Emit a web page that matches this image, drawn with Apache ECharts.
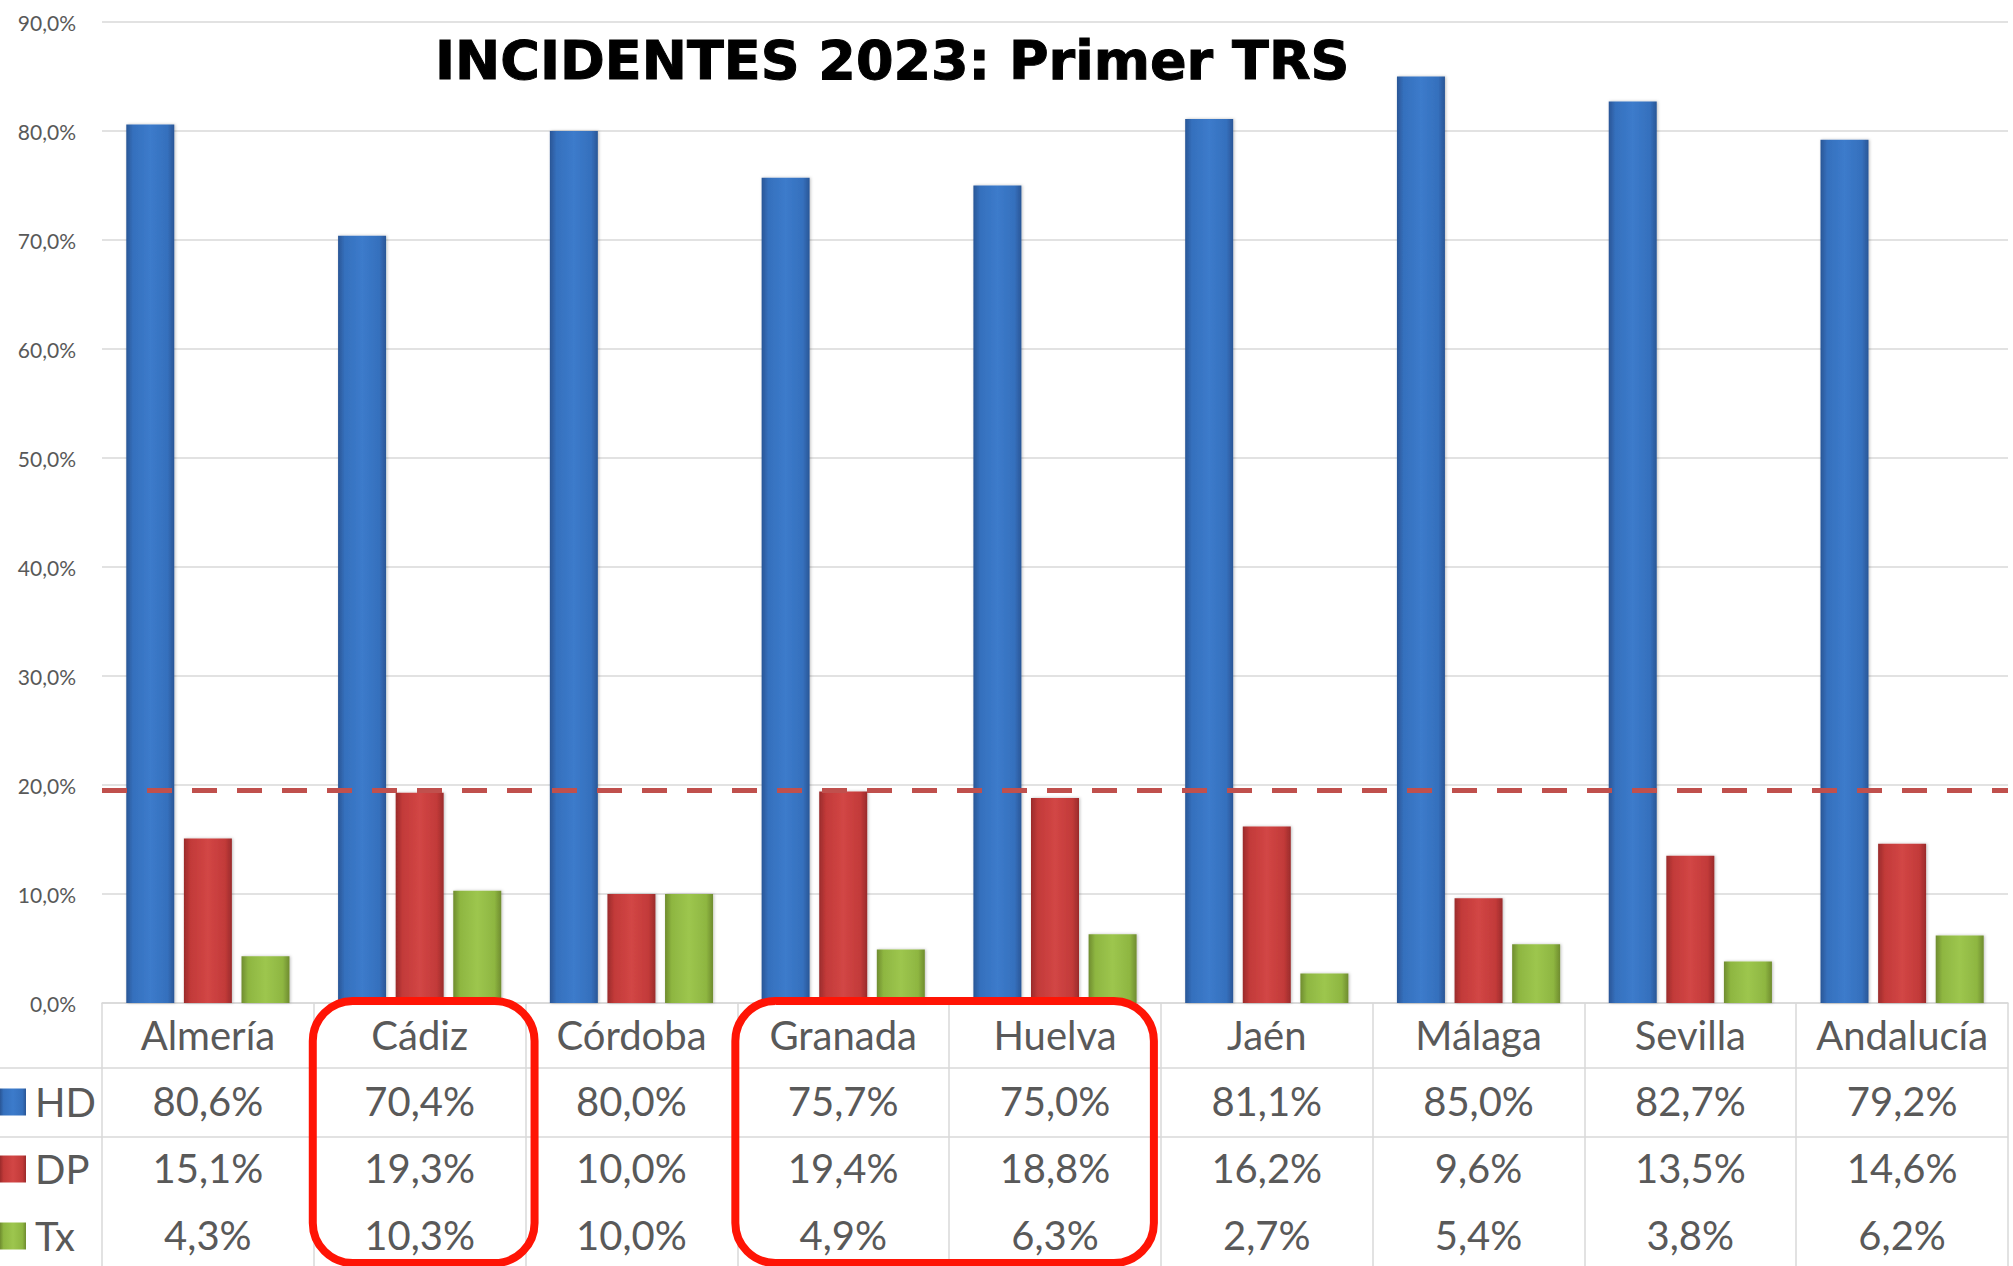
<!DOCTYPE html>
<html>
<head>
<meta charset="utf-8">
<title>INCIDENTES 2023: Primer TRS</title>
<script src="https://cdn.jsdelivr.net/npm/echarts@6/dist/echarts.min.js"></script>
<style>
  html, body { margin: 0; padding: 0; background: #fff; }
  #main { width: 2013px; height: 1266px; }
</style>
</head>
<body>
<div id="main"></div>
<script>
var provincias = ['Almería', 'Cádiz', 'Córdoba', 'Granada', 'Huelva', 'Jaén', 'Málaga', 'Sevilla', 'Andalucía'];
var hd = [80.6, 70.4, 80.0, 75.7, 75.0, 81.1, 85.0, 82.7, 79.2];
var dp = [15.1, 19.3, 10.0, 19.4, 18.8, 16.2, 9.6, 13.5, 14.6];
var tx = [4.3, 10.3, 10.0, 4.9, 6.3, 2.7, 5.4, 3.8, 6.2];
var umbral = 19.5;

var GRIS = '#595959';
var LINEA = '#D9D9D9';
var FUENTE = 'Lato, "Noto Sans", sans-serif';

// alto de cada fila de la tabla de datos (HD, DP, Tx)
var filas = [65, 69, 66];

function pct(v) {
    return v.toFixed(1).replace('.', ',') + '%';
}

function relleno(oscuro, medio, claro) {
    return new echarts.graphic.LinearGradient(0, 0, 1, 0, [
        { offset: 0, color: oscuro },
        { offset: 0.14, color: medio },
        { offset: 0.5, color: claro },
        { offset: 0.86, color: medio },
        { offset: 1, color: oscuro }
    ]);
}

function serie(nombre, datos, color) {
    return {
        name: nombre,
        type: 'bar',
        data: datos,
        barWidth: 48,
        barGap: '20%',
        itemStyle: {
            color: color,
            shadowBlur: 3,
            shadowColor: 'rgba(0,0,0,0.25)',
            shadowOffsetX: 1
        }
    };
}

// ejes extra: una fila de la tabla por serie
function filaEje(valores, margen) {
    return {
        type: 'category',
        data: provincias,
        position: 'bottom',
        axisLine: { show: false },
        axisTick: { show: false },
        splitLine: { show: false },
        axisLabel: {
            interval: 0,
            margin: margen,
            verticalAlign: 'middle',
            fontSize: 40,
            color: GRIS,
            fontFamily: FUENTE,
            formatter: function(v, i) { return pct(valores[i]); }
        }
    };
}

var chart = echarts.init(document.getElementById('main'), null, { renderer: 'svg' });

var serieHD = serie('HD', hd, relleno('#2A5696', '#3570BD', '#3C7BCB'));
serieHD.markLine = {
    silent: true,
    symbol: 'none',
    label: { show: false },
    lineStyle: { color: '#C0504D', type: [25, 20], width: 5 },
    data: [{ yAxis: umbral }]
};

var option = {
    animation: false,
    backgroundColor: '#fff',
    title: {
        text: 'INCIDENTES 2023: Primer TRS',
        left: 430,
        top: 28,
        textStyle: {
            fontFamily: '"DejaVu Sans", Verdana, sans-serif',
            fontWeight: 'bold',
            fontSize: 54,
            color: '#000',
            textBorderColor: '#000',
            textBorderWidth: 1
        }
    },
    legend: {
        orient: 'vertical',
        left: 0,
        top: 1082,
        padding: 0,
        itemWidth: 26,
        itemHeight: 27,
        itemGap: 27,
        icon: 'rect',
        selectedMode: false,
        textStyle: { fontSize: 40, lineHeight: 40, color: GRIS, fontFamily: FUENTE, padding: [0, 0, 0, 4] },
        data: ['HD', 'DP', 'Tx']
    },
    grid: { left: 102, right: 5, top: 22, bottom: 263, containLabel: false },
    xAxis: [
        {
            type: 'category',
            data: provincias,
            position: 'bottom',
            axisLine: { show: true, lineStyle: { color: LINEA, width: 1.5 } },
            axisTick: { show: true, interval: 0, length: 263, lineStyle: { color: LINEA, width: 1.5 } },
            axisLabel: {
                interval: 0,
                margin: 32,
                verticalAlign: 'middle',
                fontSize: 40,
                color: GRIS,
                fontFamily: FUENTE
            }
        },
        filaEje(hd, 98),
        filaEje(dp, 165),
        filaEje(tx, 232)
    ],
    yAxis: {
        type: 'value',
        min: 0,
        max: 90,
        interval: 10,
        axisLine: { show: false },
        axisTick: { show: false },
        axisLabel: {
            margin: 26,
            fontSize: 21,
            color: GRIS,
            fontFamily: FUENTE,
            formatter: function(v) { return pct(v); }
        },
        splitLine: { lineStyle: { color: LINEA, width: 1.5 } }
    },
    series: [
        serieHD,
        serie('DP', dp, relleno('#9A2B2B', '#C23A39', '#D24645')),
        serie('Tx', tx, relleno('#6F8C2F', '#8EB641', '#9DC64E'))
    ]
};

chart.setOption(option);

// lineas de la tabla y recuadros rojos, situados con la escala del eje
var y0 = chart.convertToPixel({ yAxisIndex: 0 }, 0);
var c0 = chart.convertToPixel({ xAxisIndex: 0 }, provincias[0]);
var c1 = chart.convertToPixel({ xAxisIndex: 0 }, provincias[1]);
var banda = c1 - c0;
var xIni = c0 - banda / 2;
var xFin = xIni + banda * provincias.length;

var graficos = [];
var y = y0;
for (var i = 0; i < filas.length; i++) {
    y += filas[i];
    if (i === filas.length - 1) break;
    graficos.push({
        type: 'line',
        silent: true,
        shape: { x1: 0, y1: y, x2: xFin, y2: y },
        style: { stroke: LINEA, lineWidth: 1.5 }
    });
}

// recuadros: [primera categoria, ultima categoria, ajuste izq, ajuste der]
var recuadros = [[1, 1, -1, 9], [3, 4, -2, -7]];
recuadros.forEach(function(r) {
    var x1 = xIni + banda * r[0] + r[2];
    var x2 = xIni + banda * (r[1] + 1) + r[3];
    graficos.push({
        type: 'rect',
        silent: true,
        z: 100,
        shape: { x: x1, y: y0 - 2, width: x2 - x1, height: 262, r: 40 },
        style: { fill: 'none', stroke: '#FF1405', lineWidth: 8 }
    });
});

chart.setOption({ graphic: graficos });
</script>
</body>
</html>
